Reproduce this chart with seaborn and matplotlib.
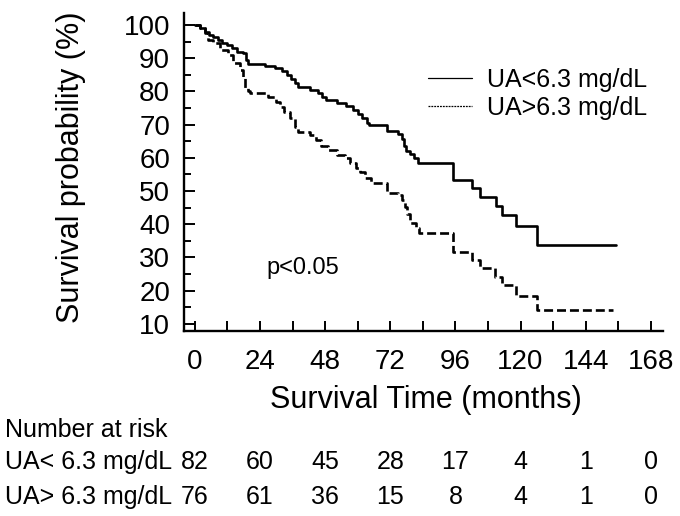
import numpy as np
import pandas as pd
import matplotlib
matplotlib.use("Agg")
import matplotlib.pyplot as plt
import matplotlib.transforms as mtransforms
from matplotlib.lines import Line2D
from matplotlib.ticker import MultipleLocator
import seaborn as sns

# ---- data ----
low_time = [0, 1.8, 3.7, 5.2, 6.6, 8.5, 10, 11.8, 13.6, 15.5, 17.7, 18.8, 19.5, 25.8, 29.5, 32, 34,
            35.4, 36.8, 38, 42.4, 45.3, 46.8, 48.3, 52.3, 55.6, 58.2, 60, 61.5, 63.4, 64, 70.7, 74.8,
            76.3, 77, 77.7, 79.2, 80.7, 82.2, 95, 102, 105, 111, 113, 118.5, 126, 155]
low_surv = [100, 99, 98, 97, 96.3, 95.5, 94.7, 94, 93, 92, 91.5, 89.5, 88.3, 87.7, 87, 86, 85,
            83.8, 82.5, 81.2, 80.3, 79.5, 78.4, 77.5, 76.5, 75.5, 74.5, 73.3, 72, 70.5, 70, 68, 67,
            65.5, 63.5, 62, 61, 60, 58.5, 53.3, 50.8, 48.3, 45.5, 42.8, 39.3, 33.7, 33.7]
high_time = [0, 1.8, 3.7, 4.8, 6.6, 9.2, 12.2, 14, 16.5, 17.7, 18.4, 19.6, 20.5, 27, 30, 31.3, 33,
             35, 36.8, 38, 42.4, 44.8, 46.6, 49, 52.3, 55.5, 57.3, 59.3, 60.8, 62.6, 65, 70.7, 74.8,
             76.3, 77.3, 78.3, 79.2, 81.5, 82.5, 95, 102, 105, 110.5, 113, 118.5, 126, 154]
high_surv = [100, 99, 97.5, 95.5, 94.5, 92.5, 91, 88.5, 86.4, 84, 81, 80, 79.4, 78.4, 76.9, 75.4, 73.9,
             71.9, 69.4, 67.9, 66.9, 65.4, 63.4, 62.4, 60.8, 60, 58.5, 57, 55.8, 53.8, 52.3, 49.3, 48.8,
             47.3, 45.3, 43, 40.3, 38.8, 37.4, 31.7, 29.2, 26.7, 24.2, 21.7, 18.2, 14.2, 14.2]

group_labels = ["UA<6.3 mg/dL", "UA>6.3 mg/dL"]
risk_rows = ["UA< 6.3 mg/dL", "UA> 6.3 mg/dL"]
risk_times = [0, 24, 48, 72, 96, 120, 144, 168]
risk_low = [82, 60, 45, 28, 17, 4, 1, 0]
risk_high = [76, 61, 36, 15, 8, 4, 1, 0]
x_ticks = [0, 24, 48, 72, 96, 120, 144, 168]
y_ticks = [10, 20, 30, 40, 50, 60, 70, 80, 90, 100]

df_low = pd.DataFrame({"time": low_time, "surv": low_surv})
df_high = pd.DataFrame({"time": high_time, "surv": high_surv})

sns.set_style("ticks")
plt.rcParams["font.family"] = ["Liberation Sans", "DejaVu Sans"]
plt.rcParams["text.color"] = "black"
plt.rcParams["axes.labelcolor"] = "black"
plt.rcParams["xtick.color"] = "black"
plt.rcParams["ytick.color"] = "black"

fig = plt.figure(figsize=(6.8, 5.16), dpi=100)
ax = fig.add_axes([184 / 680, 1 - 331 / 516, (663 - 184) / 680, (331 - 13) / 516])

lw = 1.9
sns.lineplot(data=df_low, x="time", y="surv", ax=ax, drawstyle="steps-post",
             color="black", linewidth=lw, estimator=None, errorbar=None, legend=False)
sns.lineplot(data=df_high, x="time", y="surv", ax=ax, drawstyle="steps-post",
             color="black", linewidth=lw, linestyle=(0, (3.4, 1.5)), estimator=None,
             errorbar=None, legend=False)

ax.set_xlim(-4, 172.5)
ax.set_ylim(7.8, 103.6)
ax.set_xticks(x_ticks)
ax.set_yticks(y_ticks)
ax.xaxis.set_minor_locator(MultipleLocator(12))
ax.yaxis.set_minor_locator(MultipleLocator(5))
ax.tick_params(axis="both", which="both", direction="in", width=1.4, colors="black")
ax.tick_params(axis="x", which="major", length=7, pad=13, labelsize=20)
ax.tick_params(axis="x", which="minor", length=7)
ax.tick_params(axis="y", which="major", length=8, pad=10, labelsize=20)
ax.tick_params(axis="y", which="minor", length=5)
for s in ["top", "right"]:
    ax.spines[s].set_visible(False)
for s in ["left", "bottom"]:
    ax.spines[s].set_linewidth(1.7)
    ax.spines[s].set_color("black")

ax.set_xlabel("Survival Time (months)", fontsize=22, color="black")
ax.set_ylabel("Survival probability (%)", fontsize=22, color="black")
ax.xaxis.set_label_coords(0.505, -0.17)
ax.yaxis.set_label_coords(-0.205, 0.516)

ax.text(39.8, 26.8, "p<0.05", fontsize=17, ha="center", va="center", color="black")

handles = [Line2D([], [], color="black", linewidth=0.9),
           Line2D([], [], color="black", linewidth=0.9, linestyle=(0, (1.5, 0.8)))]
leg = ax.legend(handles, group_labels, loc="center left",
                bbox_to_anchor=((428 - 184) / 479, (331 - 94) / 318),
                frameon=False, fontsize=18, handlelength=1.76, handletextpad=0.6,
                labelspacing=0.15, borderpad=0, borderaxespad=0, labelcolor="black")

# number at risk table
trans = mtransforms.blended_transform_factory(ax.transData, fig.transFigure)
fig.text(5 / 680, 1 - 430 / 516, "Number at risk", fontsize=18, ha="left", va="center",
         color="black")
row_y = [1 - 462 / 516, 1 - 497 / 516]
for label, vals, yy in zip(risk_rows, [risk_low, risk_high], row_y):
    fig.text(5 / 680, yy, label, fontsize=18, ha="left", va="center", color="black")
    for t, v in zip(risk_times, vals):
        ax.text(t, yy, str(v), transform=trans, fontsize=18, ha="center", va="center",
                clip_on=False, color="black")

fig.savefig("out.png", dpi=100, facecolor="white")
